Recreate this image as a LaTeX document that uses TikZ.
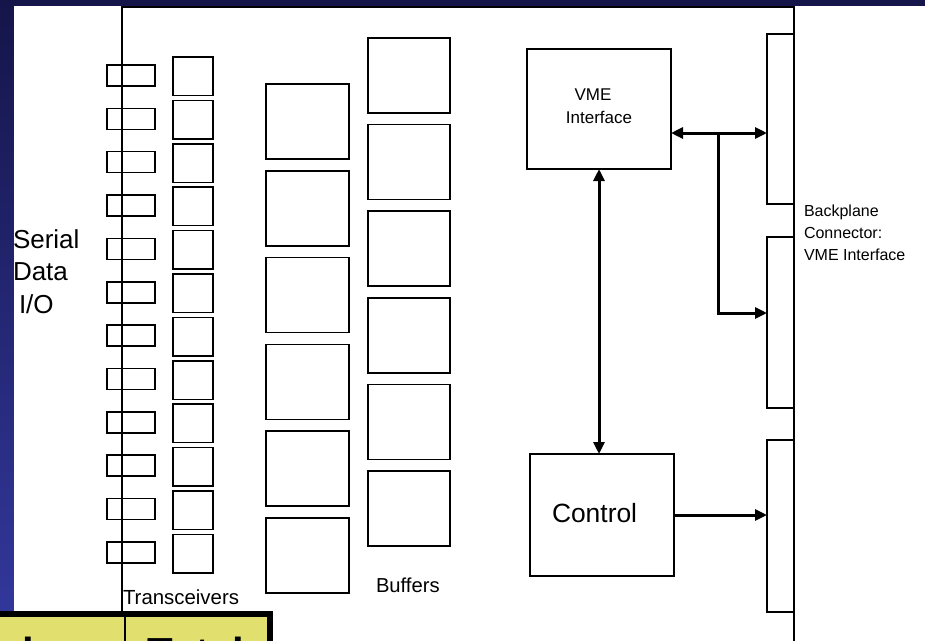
\documentclass[tikz,border=0pt]{standalone}
\usepackage{fontspec}
\setmainfont{Liberation Sans}
\usetikzlibrary{arrows.meta}
\definecolor{navytop}{HTML}{15154A}
\definecolor{navybot}{HTML}{33399E}
\definecolor{tabyel}{HTML}{E1E06E}
\tikzset{
  cell/.style={draw=black, line width=1.5pt, inner sep=0pt, outer sep=0pt},
  bus/.style={line width=3pt, -{Triangle[length=12pt,width=11pt]}},
  dbus/.style={line width=3pt, {Triangle[length=12pt,width=11pt]}-{Triangle[length=12pt,width=11pt]}},
  lbl/.style={inner sep=0pt, outer sep=0pt, anchor=base west},
  clbl/.style={inner sep=0pt, outer sep=0pt, anchor=base},
}
\begin{document}
\begin{tikzpicture}[x=1pt,y=-1pt]
\clip (0,0) rectangle (925,640);
\shade[top color=navytop, bottom color=navybot] (0,0) rectangle (925,640);
\fill[white] (14,6) rectangle (930,650);
% board outline
\draw[line width=1.5pt] (122,640) -- (122,7) -- (794,7) -- (794,650);
% serial connectors and transceivers
\foreach \i in {1,...,12} {
  \node[cell, minimum width=48pt, minimum height=21pt] (sc\i) at (131,{75.5+43.36*(\i-1)}) {};
  \node[cell, minimum width=40pt, minimum height=38.5pt] (tr\i) at (193,{76.2+43.4*(\i-1)}) {};
}
% buffers
\foreach \i in {1,...,6} {
  \node[cell, minimum width=83pt, minimum height=75pt] (ba\i) at (307.5,{121.5+86.8*(\i-1)}) {};
  \node[cell, minimum width=82pt, minimum height=75pt] (bb\i) at (409,{75.5+86.6*(\i-1)}) {};
}
% VME and Control
\node[cell, minimum width=144pt, minimum height=120pt] (vme) at (599,109) {};
\node[cell, minimum width=144pt, minimum height=122pt] (ctrl) at (602,515) {};
% backplane connectors
\node[cell, line width=1.3pt, minimum width=27pt, minimum height=170pt] (bp1) at (780.5,119) {};
\node[cell, line width=1.3pt, minimum width=27pt, minimum height=171pt] (bp2) at (780.5,322.5) {};
\node[cell, line width=1.3pt, minimum width=27pt, minimum height=172pt] (bp3) at (780.5,526) {};
% connectors
\coordinate (j) at (718,133);
\coordinate (k) at (718,313);
\draw[dbus] (vme.east |- j) -- (bp1.west |- j);
\draw[bus] (j) -- (k) -- (bp2.west |- k);
\draw[dbus] (vme.south) -- (vme.south |- ctrl.north);
\draw[bus] (ctrl.east) -- (bp3.west |- ctrl.east);
% labels
\node[lbl, font=\fontsize{26pt}{31pt}\selectfont] (s1) at (13,248) {Serial};
\node[lbl, font=\fontsize{26pt}{31pt}\selectfont] (s2) at (13,280) {Data};
\node[lbl, font=\fontsize{26pt}{31pt}\selectfont] (s3) at (19,313) {I/O};
\node[lbl, font=\fontsize{20.4pt}{24pt}\selectfont] (ltr) at (123,604) {Transceivers};
\node[lbl, font=\fontsize{20.2pt}{24pt}\selectfont] (lbu) at (376,592) {Buffers};
\node[clbl, font=\fontsize{17pt}{20pt}\selectfont] (lv1) at (593,100) {VME};
\node[clbl, font=\fontsize{17pt}{20pt}\selectfont] (lv2) at (599,123) {Interface};
\node[lbl, font=\fontsize{26.4pt}{31pt}\selectfont] (lct) at (552,522) {Control};
\node[lbl, font=\fontsize{16pt}{19pt}\selectfont] (bl1) at (804,216) {Backplane};
\node[lbl, font=\fontsize{16pt}{19pt}\selectfont] (bl2) at (804,238) {Connector:};
\node[lbl, font=\fontsize{16pt}{19pt}\selectfont] (bl3) at (804,260) {VME Interface};
% table at bottom
\fill[black] (0,611) rectangle (273,650);
\fill[tabyel] (0,617) rectangle (267,650);
\draw[line width=2pt] (125,617) -- (125,650);
\node[lbl, font=\bfseries\fontsize{42pt}{50pt}\selectfont] (tl) at (22,667) {l};
\node[lbl, font=\bfseries\fontsize{42pt}{50pt}\selectfont] (tt) at (147,667) {Total};
\end{tikzpicture}
\end{document}
